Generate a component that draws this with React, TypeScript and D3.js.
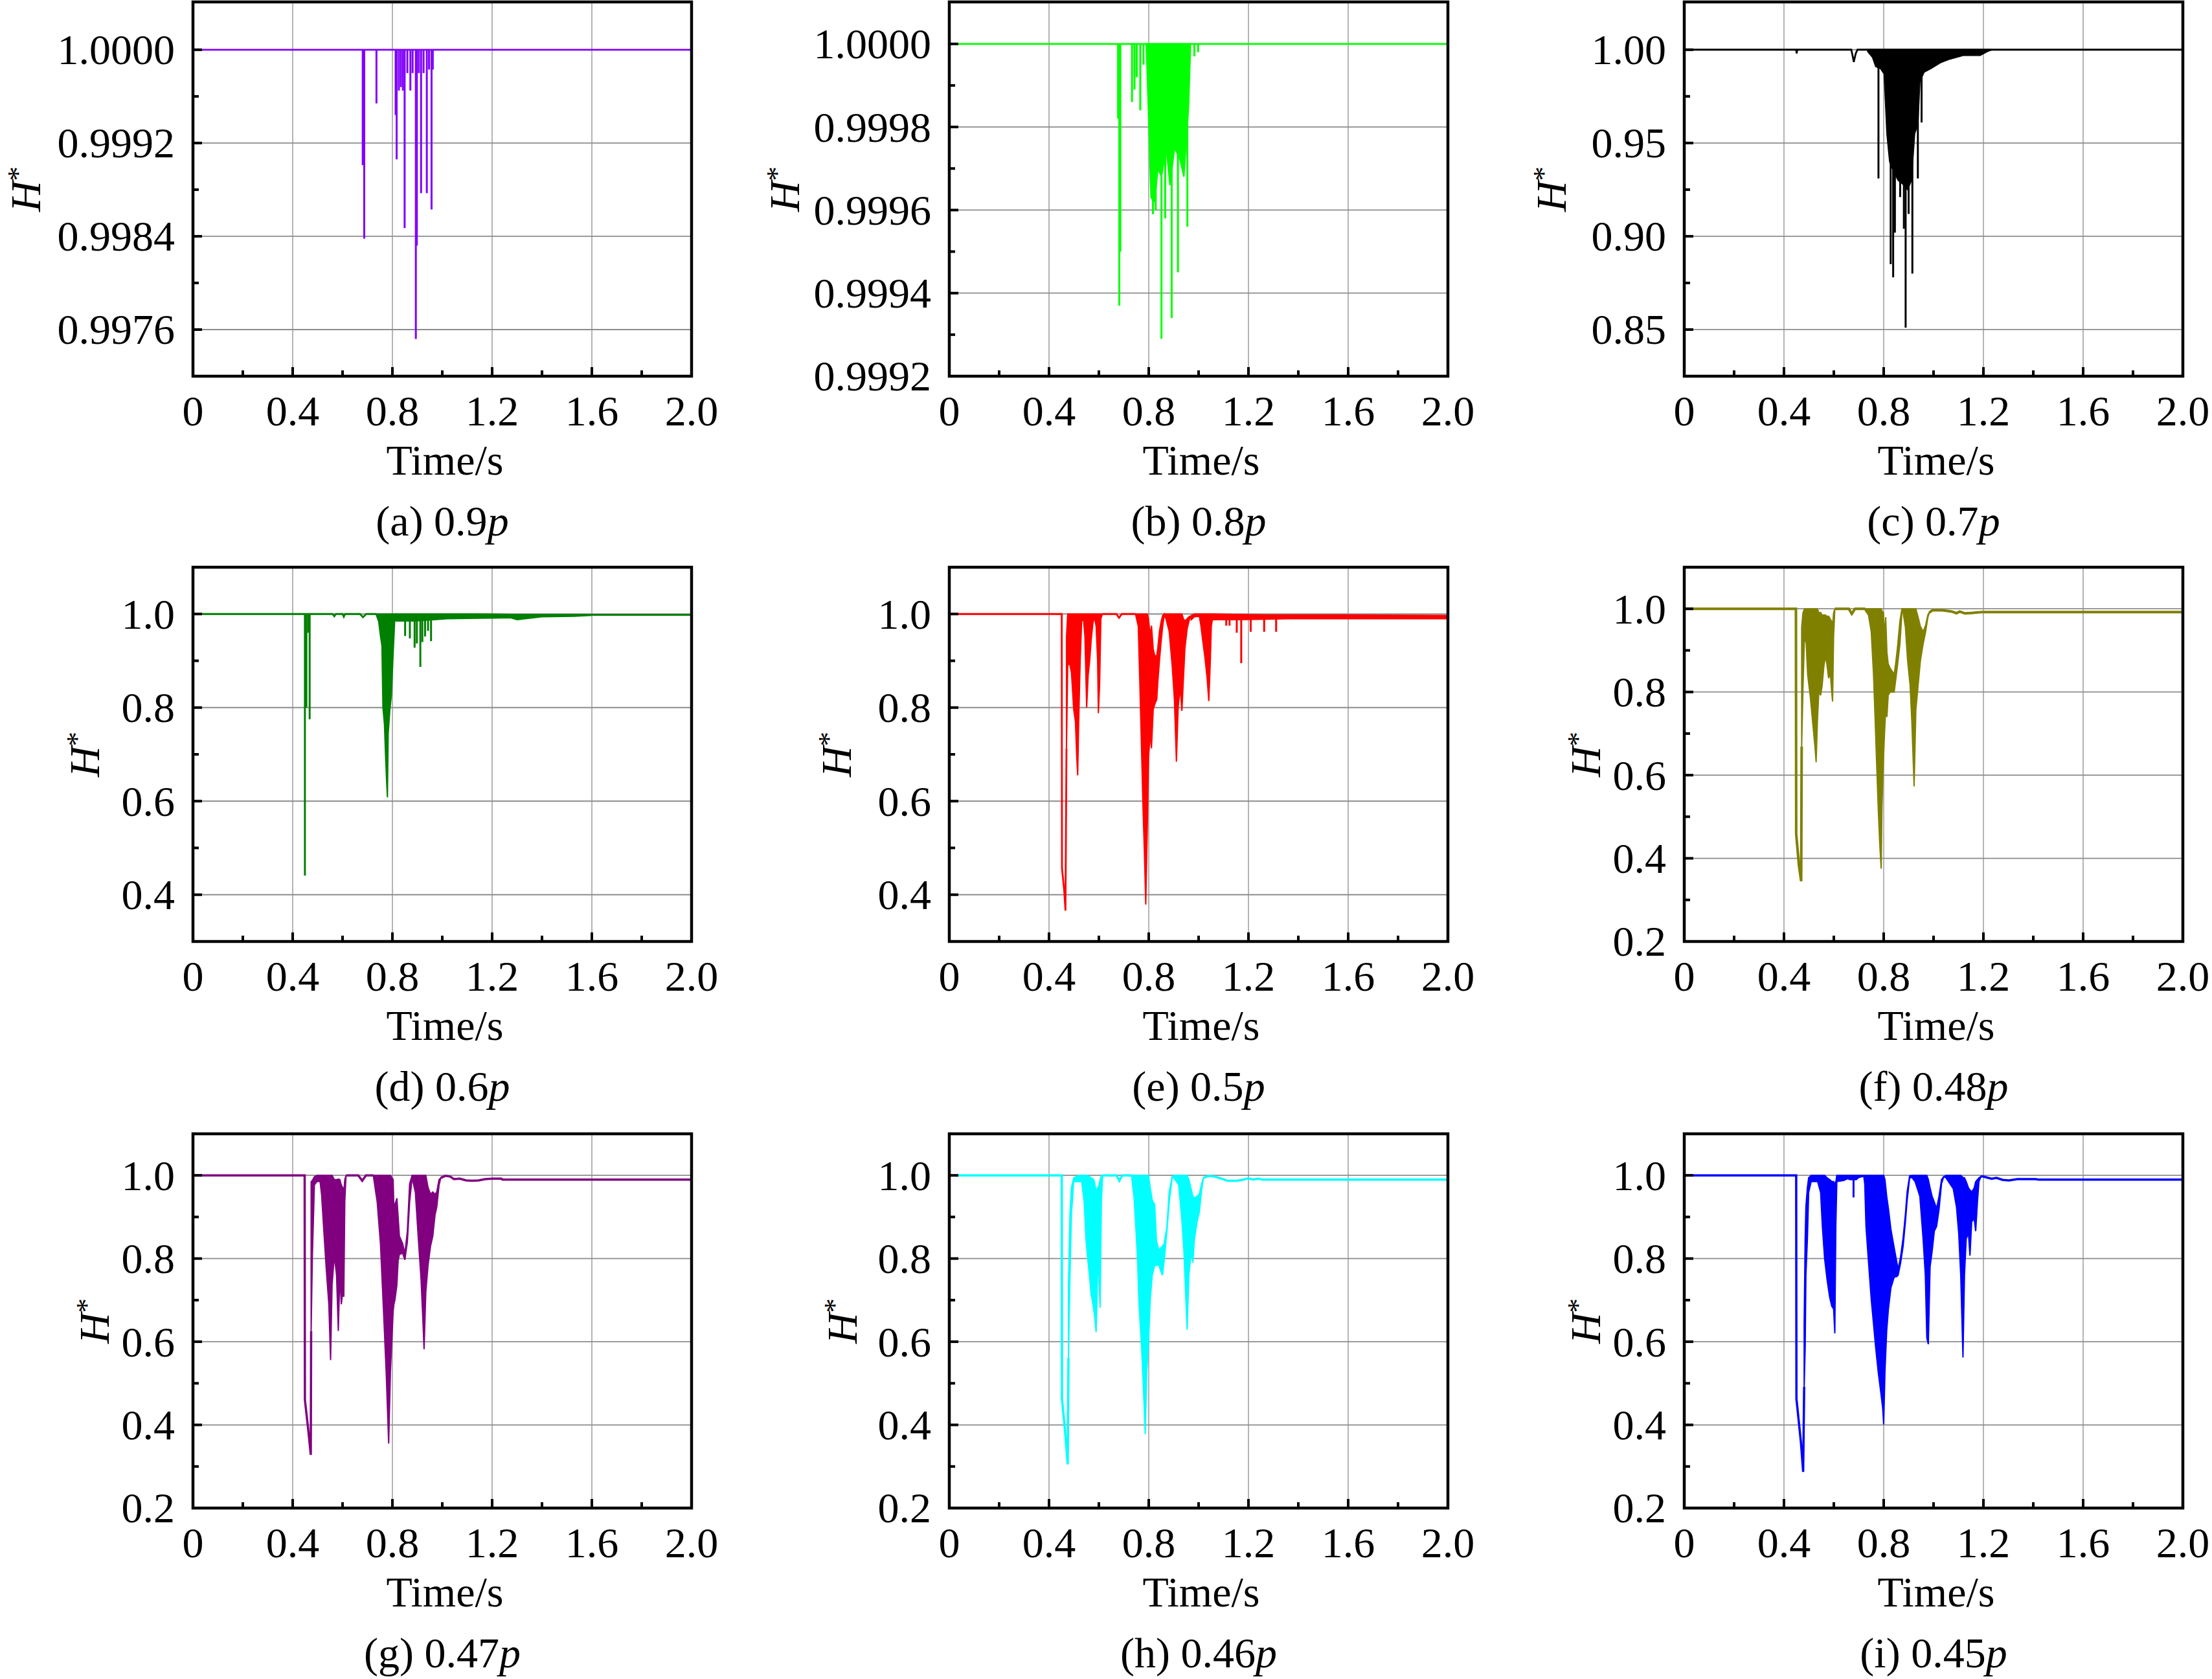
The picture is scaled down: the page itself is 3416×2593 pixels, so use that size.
import * as d3 from "d3";

// ── Types ───────────────────────────────────────────────
type Pt = [number, number]; // [time, H*]
type Env = [number, number, number]; // [time, low, high] envelope of dense oscillation
type Spike = [number, number, number]; // [time, from, to]

// ── Shared axis data ────────────────────────────────────
const X_TICKS = [0, 0.4, 0.8, 1.2, 1.6, 2.0];
const X_LABELS = ["0", "0.4", "0.8", "1.2", "1.6", "2.0"];
const X_MINOR = [0.2, 0.6, 1.0, 1.4, 1.8];

// ── (a) 0.9p ────────────────────────────────────────────
const aLine: Pt[] = [[0, 1], [2, 1]];
const aSpikes: Spike[] = [
  [0.681, 1, 0.99901], [0.687, 1, 0.99838], [0.736, 1, 0.99954], [0.813, 1, 0.99944],
  [0.817, 1, 0.99906], [0.826, 1, 0.99965], [0.834, 1, 0.99968], [0.842, 1, 0.99965],
  [0.849, 1, 0.99847], [0.86, 1, 0.9998], [0.872, 1, 0.99965], [0.881, 1, 0.9998],
  [0.894, 1, 0.99752], [0.898, 1, 0.99832], [0.906, 1, 0.9998], [0.915, 1, 0.99877],
  [0.925, 1, 0.9998], [0.938, 1, 0.99877], [0.947, 1, 0.99983], [0.957, 1, 0.99863],
  [0.962, 1, 0.99983],
];

// ── (b) 0.8p ────────────────────────────────────────────
const bLine: Pt[] = [[0, 1], [2, 1]];
const bBand: Env[] = [
  [0.79, 1, 1], [0.798, 0.99985, 1], [0.809, 0.99963, 1], [0.824, 0.99962, 1],
  [0.837, 0.9997, 1], [0.851, 0.99968, 1], [0.87, 0.99975, 1], [0.885, 0.99966, 1],
  [0.904, 0.99975, 1], [0.926, 0.99972, 1], [0.941, 0.99968, 1], [0.96, 0.99985, 1],
  [0.968, 1, 1],
];
const bSpikes: Spike[] = [
  [0.677, 1, 0.99982], [0.682, 1, 0.99937], [0.686, 1, 0.9995], [0.733, 1, 0.99986],
  [0.743, 1, 0.99989], [0.752, 1, 0.99992], [0.766, 1, 0.99984], [0.779, 1, 0.99995],
  [0.817, 1, 0.99959], [0.828, 1, 0.9996], [0.851, 1, 0.99929], [0.866, 1, 0.99958],
  [0.892, 1, 0.99934], [0.917, 1, 0.99945], [0.955, 1, 0.99956], [0.983, 1, 0.99997],
  [0.998, 1, 0.99998],
];

// ── (c) 0.7p ────────────────────────────────────────────
const cLine: Pt[] = [
  [0, 1], [0.449, 1], [0.451, 0.998], [0.453, 1], [0.67, 1], [0.675, 0.997],
  [0.68, 0.9934], [0.688, 0.998], [0.695, 1], [2, 1],
];
const cBand: Env[] = [
  [0.736, 0.999, 1], [0.755, 0.996, 1], [0.768, 0.991, 1], [0.787, 0.99, 1],
  [0.802, 0.987, 1], [0.813, 0.955, 1], [0.824, 0.94, 1], [0.839, 0.935, 1],
  [0.858, 0.93, 1], [0.877, 0.928, 1], [0.896, 0.925, 1], [0.911, 0.93, 1],
  [0.924, 0.955, 1], [0.937, 0.96, 1], [0.945, 0.983, 1], [0.962, 0.988, 1],
  [0.99, 0.99, 1], [1.027, 0.993, 1], [1.065, 0.995, 1], [1.121, 0.997, 1],
  [1.187, 0.997, 1], [1.215, 0.999, 1], [1.234, 1, 1],
];
const cSpikes: Spike[] = [
  [0.779, 1, 0.931], [0.828, 1, 0.885], [0.838, 1, 0.878], [0.845, 1, 0.902],
  [0.866, 1, 0.921], [0.881, 1, 0.904], [0.888, 1, 0.851], [0.9, 1, 0.912],
  [0.915, 1, 0.88], [0.937, 1, 0.931], [0.952, 1, 0.961],
];

// ── (d) 0.6p ────────────────────────────────────────────
const dLine0: Pt[] = [
  [0, 1], [0.56, 1], [0.567, 0.995], [0.573, 1], [0.6, 1], [0.605, 0.994],
  [0.61, 1], [0.67, 1], [0.682, 0.993], [0.695, 1], [0.736, 1],
];
const dLine1: Pt[] = [[1.6, 0.998], [2, 0.998]];
const dBandA: Env[] = [
  [0.736, 0.997, 1], [0.745, 0.984, 1], [0.752, 0.953, 1], [0.758, 0.932, 1],
  [0.762, 0.8, 1], [0.768, 0.765, 1], [0.773, 0.69, 1], [0.777, 0.64, 1],
  [0.78, 0.608, 1], [0.783, 0.744, 1], [0.79, 0.796, 1], [0.796, 0.827, 1],
  [0.803, 0.916, 1], [0.809, 0.984, 1], [0.815, 0.99, 1],
];
const dBandB: Env[] = [
  [0.815, 0.985, 1], [0.892, 0.985, 1], [0.968, 0.988, 1], [1.02, 0.99, 1],
  [1.146, 0.991, 1], [1.274, 0.992, 0.999], [1.3, 0.988, 0.999], [1.4, 0.994, 0.999],
  [1.53, 0.995, 0.999], [1.6, 0.997, 0.999],
];
const dSpikes: Spike[] = [
  [0.449, 1, 0.441], [0.455, 1, 0.8], [0.462, 1, 0.96], [0.468, 1, 0.775],
  [0.851, 1, 0.953], [0.87, 1, 0.948], [0.889, 1, 0.928], [0.898, 1, 0.937],
  [0.912, 1, 0.887], [0.92, 1, 0.94], [0.931, 1, 0.952], [0.943, 1, 0.964],
  [0.955, 1, 0.942],
];

// ── (e) 0.5p ────────────────────────────────────────────
const eLine0: Pt[] = [
  [0, 1], [0.451, 1], [0.452, 0.457], [0.461, 0.408], [0.466, 0.366], [0.47, 0.713],
];
const eLine1: Pt[] = [[0.614, 1], [0.67, 1], [0.681, 0.992], [0.692, 1], [0.748, 1]];
const eBandA: Env[] = [
  [0.47, 0.713, 0.95], [0.475, 0.89, 1], [0.482, 0.895, 1], [0.49, 0.875, 1],
  [0.499, 0.796, 1], [0.506, 0.77, 1], [0.511, 0.697, 1], [0.515, 0.655, 1],
  [0.519, 0.77, 1], [0.525, 0.9, 1], [0.531, 0.984, 1], [0.538, 0.99, 1],
  [0.544, 0.953, 1], [0.551, 0.8, 1], [0.557, 0.869, 1], [0.563, 0.9, 1],
  [0.569, 0.943, 1], [0.576, 0.98, 1], [0.582, 0.994, 1], [0.589, 0.974, 1],
  [0.595, 0.9, 1], [0.598, 0.788, 1], [0.603, 0.85, 1], [0.608, 0.99, 1],
  [0.614, 1, 1],
];
const eBandB: Env[] = [
  [0.748, 0.997, 1], [0.758, 0.974, 1], [0.764, 0.859, 1], [0.771, 0.713, 1],
  [0.777, 0.587, 1], [0.783, 0.483, 1], [0.788, 0.379, 1], [0.794, 0.536, 1],
  [0.799, 0.692, 0.99], [0.806, 0.744, 0.953], [0.811, 0.713, 0.975], [0.818, 0.796, 0.925],
  [0.824, 0.807, 0.911], [0.832, 0.817, 0.91], [0.837, 0.859, 0.93], [0.843, 0.9, 0.963],
  [0.85, 0.943, 0.985], [0.856, 0.974, 0.997], [0.862, 0.997, 1],
];
const eBandC: Env[] = [
  [0.862, 0.997, 1], [0.869, 0.99, 1], [0.882, 0.963, 1], [0.894, 0.89, 1],
  [0.903, 0.817, 1], [0.911, 0.684, 1], [0.918, 0.8, 1], [0.926, 0.843, 1],
  [0.933, 0.793, 1], [0.939, 0.86, 0.99], [0.945, 0.926, 0.985], [0.954, 0.968, 0.99],
  [0.964, 0.99, 0.995], [0.971, 0.99, 0.995],
];
const eBandD: Env[] = [
  [0.971, 0.988, 0.997], [0.983, 0.994, 1], [1.003, 0.995, 1], [1.009, 0.976, 1],
  [1.015, 0.95, 1], [1.025, 0.909, 1], [1.034, 0.864, 1], [1.041, 0.814, 1],
  [1.047, 0.9, 1], [1.051, 0.974, 1], [1.056, 0.99, 1],
];
const eBandE: Env[] = [
  [1.056, 0.988, 1], [1.15, 0.988, 0.999], [1.27, 0.989, 0.998], [1.36, 0.99, 0.998],
  [1.6, 0.99, 0.998], [2.0, 0.99, 0.997],
];
const eSpikes: Spike[] = [
  [1.111, 0.99, 0.975], [1.124, 0.99, 0.975], [1.153, 0.99, 0.96], [1.171, 0.99, 0.895],
  [1.209, 0.99, 0.962], [1.263, 0.99, 0.962], [1.311, 0.99, 0.962],
];

// ── (f) 0.48p ───────────────────────────────────────────
const fLine0: Pt[] = [
  [0, 1], [0.448, 1], [0.449, 0.459], [0.46, 0.383], [0.469, 0.345], [0.471, 0.669],
];
const fLine1: Pt[] = [[0.604, 1], [0.66, 1], [0.672, 0.988], [0.685, 1], [0.726, 1]];
const fLine2: Pt[] = [
  [0.983, 0.991], [0.996, 0.9965], [1.035, 0.9965], [1.073, 0.9935], [1.092, 0.9895],
  [1.105, 0.9935], [1.125, 0.989], [1.15, 0.99], [1.195, 0.9922], [2.0, 0.9922],
];
const fBandA: Env[] = [
  [0.471, 0.669, 0.955], [0.476, 0.804, 0.99], [0.482, 0.929, 1], [0.489, 0.918, 1],
  [0.495, 0.842, 1], [0.506, 0.786, 1], [0.515, 0.728, 1], [0.524, 0.67, 1],
  [0.529, 0.631, 1], [0.534, 0.728, 1], [0.54, 0.804, 0.99], [0.547, 0.792, 0.991],
  [0.553, 0.815, 0.985], [0.56, 0.862, 0.985], [0.566, 0.885, 0.985], [0.572, 0.868, 0.982],
  [0.579, 0.833, 0.982], [0.586, 0.845, 0.975], [0.591, 0.803, 0.97], [0.595, 0.777, 0.96],
  [0.599, 0.933, 0.99], [0.604, 1, 1],
];
const fBandB: Env[] = [
  [0.726, 0.996, 1], [0.739, 0.985, 1], [0.75, 0.945, 1], [0.759, 0.845, 1],
  [0.765, 0.746, 1], [0.771, 0.64, 1], [0.778, 0.523, 1], [0.784, 0.436, 1],
  [0.79, 0.375, 1], [0.793, 0.523, 0.995], [0.799, 0.64, 0.99], [0.804, 0.71, 0.93],
  [0.808, 0.755, 0.98], [0.813, 0.74, 0.895], [0.818, 0.792, 0.868], [0.826, 0.8, 0.857],
  [0.842, 0.8, 0.843], [0.848, 0.828, 0.868], [0.855, 0.862, 0.905], [0.865, 0.915, 0.97],
  [0.873, 0.99, 1], [0.878, 1, 1],
];
const fBandC: Env[] = [
  [0.878, 0.991, 1], [0.887, 0.956, 1], [0.896, 0.875, 1], [0.906, 0.816, 1],
  [0.913, 0.728, 1], [0.922, 0.573, 1], [0.929, 0.757, 1], [0.938, 0.816, 0.98],
  [0.947, 0.874, 0.958], [0.958, 0.915, 0.945], [0.968, 0.944, 0.96], [0.977, 0.979, 0.985],
  [0.983, 0.991, 0.992],
];

// ── (g) 0.47p ───────────────────────────────────────────
const gLine0: Pt[] = [
  [0, 1], [0.448, 1], [0.449, 0.46], [0.461, 0.396], [0.4726, 0.328], [0.474, 0.626],
];
const gLine1: Pt[] = [[0.614, 1], [0.663, 1], [0.679, 0.987], [0.694, 1], [0.724, 1]];
const gLine2: Pt[] = [
  [0.994, 0.994], [1.013, 0.999], [1.032, 0.997], [1.047, 0.991], [1.07, 0.992],
  [1.096, 0.988], [1.121, 0.987], [1.146, 0.988], [1.172, 0.991], [1.204, 0.992],
  [1.236, 0.992], [1.242, 0.99], [2.0, 0.99],
];
const gBandA: Env[] = [
  [0.474, 0.626, 0.985], [0.479, 0.807, 0.988], [0.487, 0.977, 0.997], [0.497, 0.985, 1],
  [0.51, 0.985, 1], [0.516, 0.953, 1], [0.525, 0.866, 1], [0.535, 0.772, 1],
  [0.545, 0.69, 1], [0.552, 0.556, 1], [0.558, 0.737, 1], [0.567, 0.807, 0.99],
  [0.576, 0.76, 0.99], [0.583, 0.626, 0.991], [0.589, 0.76, 0.99], [0.595, 0.69, 0.977],
  [0.601, 0.72, 0.97], [0.605, 0.708, 0.96], [0.609, 0.936, 0.99], [0.614, 1, 1],
];
const gBandB: Env[] = [
  [0.724, 0.997, 1], [0.739, 0.936, 1], [0.752, 0.836, 1], [0.764, 0.679, 1],
  [0.775, 0.527, 1], [0.785, 0.355, 1], [0.792, 0.527, 1], [0.803, 0.673, 0.99],
  [0.806, 0.69, 0.918], [0.81, 0.7, 0.93], [0.818, 0.737, 0.945], [0.823, 0.795, 0.9],
  [0.828, 0.81, 0.854], [0.841, 0.813, 0.836], [0.85, 0.797, 0.812], [0.86, 0.84, 0.866],
  [0.869, 0.936, 0.98], [0.879, 0.994, 1],
];
const gBandC: Env[] = [
  [0.879, 0.994, 1], [0.892, 0.96, 1], [0.904, 0.848, 1], [0.915, 0.749, 1],
  [0.922, 0.655, 1], [0.927, 0.582, 1], [0.934, 0.72, 1], [0.943, 0.784, 0.971],
  [0.953, 0.83, 0.955], [0.962, 0.854, 0.96], [0.971, 0.905, 0.955], [0.978, 0.924, 0.96],
  [0.987, 0.976, 0.99], [0.994, 0.994, 0.994],
];

// ── (h) 0.46p ───────────────────────────────────────────
const hLine0: Pt[] = [
  [0, 1], [0.451, 1], [0.452, 0.463], [0.465, 0.381], [0.475, 0.305], [0.478, 0.562],
];
const hLine1: Pt[] = [[0.615, 1], [0.671, 1], [0.682, 0.987], [0.694, 1], [0.732, 1]];
const hLine2: Pt[] = [
  [1.019, 0.994], [1.041, 0.999], [1.066, 0.997], [1.092, 0.992], [1.117, 0.987],
  [1.156, 0.987], [1.181, 0.99], [1.2, 0.993], [1.219, 0.99], [1.238, 0.992],
  [1.257, 0.99], [2.0, 0.99],
];
const hBandA: Env[] = [
  [0.478, 0.562, 0.73], [0.484, 0.76, 0.907], [0.49, 0.907, 0.971], [0.499, 0.985, 0.994],
  [0.518, 0.985, 1], [0.531, 0.985, 1], [0.541, 0.936, 1], [0.548, 0.848, 1],
  [0.554, 0.807, 1], [0.561, 0.766, 0.998], [0.569, 0.714, 0.994], [0.576, 0.69, 0.992],
  [0.582, 0.667, 0.985], [0.589, 0.623, 0.96], [0.595, 0.772, 0.97], [0.6, 0.76, 0.975],
  [0.605, 0.682, 0.99], [0.61, 0.936, 1], [0.615, 1, 1],
];
const hBandB: Env[] = [
  [0.732, 0.994, 1], [0.741, 0.947, 1], [0.748, 0.877, 1], [0.755, 0.8, 1],
  [0.761, 0.69, 1], [0.771, 0.591, 1], [0.778, 0.498, 1], [0.786, 0.378, 1],
  [0.792, 0.527, 1], [0.799, 0.597, 1], [0.806, 0.7, 0.97], [0.814, 0.76, 0.94],
  [0.824, 0.784, 0.93], [0.831, 0.784, 0.842], [0.841, 0.784, 0.819], [0.847, 0.772, 0.825],
  [0.855, 0.76, 0.83], [0.862, 0.795, 0.836], [0.873, 0.866, 0.877], [0.882, 0.936, 0.96],
  [0.894, 0.994, 0.997],
];
const hBandC: Env[] = [
  [0.894, 0.994, 0.997], [0.901, 0.994, 1], [0.92, 0.977, 1], [0.932, 0.9, 1],
  [0.941, 0.819, 1], [0.949, 0.702, 1], [0.954, 0.629, 1], [0.961, 0.76, 0.99],
  [0.971, 0.819, 0.965], [0.977, 0.79, 0.95], [0.983, 0.845, 0.945], [0.994, 0.889, 0.95],
  [1.003, 0.912, 0.955], [1.011, 0.959, 0.977], [1.019, 0.994, 0.994],
];

// ── (i) 0.45p ───────────────────────────────────────────
const iLine0: Pt[] = [
  [0, 1], [0.449, 1], [0.45, 0.463], [0.468, 0.358], [0.477, 0.287], [0.481, 0.492],
];
const iLine2: Pt[] = [
  [1.188, 0.996], [1.195, 0.998], [1.214, 0.995], [1.233, 0.992], [1.252, 0.994],
  [1.278, 0.989], [1.303, 0.988], [1.336, 0.991], [1.368, 0.991], [1.41, 0.991],
  [1.42, 0.99], [2.0, 0.99],
];
const iBandA: Env[] = [
  [0.481, 0.492, 0.646], [0.485, 0.585, 0.848], [0.488, 0.76, 0.925], [0.494, 0.848, 0.971],
  [0.499, 0.959, 0.994], [0.509, 0.985, 1], [0.535, 0.985, 1], [0.547, 0.959, 1],
  [0.554, 0.877, 1], [0.563, 0.8, 1], [0.573, 0.749, 0.994], [0.583, 0.708, 0.99],
  [0.592, 0.685, 0.985], [0.599, 0.679, 0.985], [0.604, 0.62, 0.98], [0.608, 0.877, 0.985],
  [0.612, 0.985, 1], [0.64, 0.988, 1], [0.655, 0.992, 1], [0.665, 0.99, 1],
  [0.69, 0.99, 1], [0.7, 0.995, 1], [0.72, 0.998, 1],
];
const iBandB: Env[] = [
  [0.72, 0.998, 1], [0.724, 0.98, 1], [0.729, 0.877, 1], [0.74, 0.784, 1],
  [0.75, 0.702, 1], [0.759, 0.644, 1], [0.768, 0.585, 1], [0.778, 0.527, 1],
  [0.788, 0.48, 1], [0.796, 0.44, 1], [0.8, 0.401, 1], [0.805, 0.527, 0.99],
  [0.812, 0.626, 0.95], [0.819, 0.679, 0.92], [0.829, 0.73, 0.87], [0.842, 0.755, 0.826],
  [0.853, 0.757, 0.79], [0.858, 0.76, 0.775], [0.868, 0.79, 0.805], [0.878, 0.83, 0.85],
  [0.887, 0.888, 0.906], [0.894, 0.94, 0.96], [0.904, 0.994, 0.999],
];
const iBandC: Env[] = [
  [0.904, 0.994, 0.999], [0.913, 0.995, 1], [0.926, 0.985, 1], [0.945, 0.95, 1],
  [0.958, 0.848, 1], [0.967, 0.76, 1], [0.973, 0.609, 1], [0.979, 0.594, 0.99],
  [0.986, 0.78, 0.97], [0.994, 0.816, 0.95], [1.003, 0.866, 0.936], [1.012, 0.877, 0.92],
  [1.022, 0.918, 0.95], [1.032, 0.98, 0.99], [1.041, 0.997, 0.997],
];
const iBandD: Env[] = [
  [1.041, 0.997, 0.997], [1.05, 0.994, 1], [1.06, 0.985, 1], [1.079, 0.968, 1],
  [1.092, 0.924, 1], [1.101, 0.86, 1], [1.109, 0.76, 1], [1.118, 0.562, 0.995],
  [1.124, 0.76, 0.994], [1.131, 0.848, 0.985], [1.14, 0.86, 0.97], [1.146, 0.807, 0.965],
  [1.153, 0.889, 0.96], [1.163, 0.895, 0.97], [1.169, 0.866, 0.985], [1.176, 0.936, 0.99],
  [1.182, 0.985, 0.994], [1.188, 0.994, 0.996],
];
const iSpikes: Spike[] = [[0.679, 0.99, 0.947]];

// ── Layout ──────────────────────────────────────────────
const W = 3416;
const H = 2593;
const COL_X = [298, 1466, 2601];
const ROW_Y = [3, 876, 1751];
const PLOT_W = 770;
const PLOT_H = 578;
const FONT = "'Liberation Serif', 'Times New Roman', serif";
const FS = 66;

interface PanelSpec {
  tag: string;
  color: string;
  col: number;
  row: number;
  yDomain: [number, number];
  yTicks: number[];
  yLabels: string[];
  yMinor: number[];
  lines: Pt[][];
  bands: Env[][];
  spikes: Spike[];
  labelOff: number;
  lineWidth?: number;
}

const LAB_A = ["1.0000", "0.9992", "0.9984", "0.9976"];
const LAB_B = ["1.0000", "0.9998", "0.9996", "0.9994", "0.9992"];
const LAB_C = ["1.00", "0.95", "0.90", "0.85"];
const LAB_DE = ["1.0", "0.8", "0.6", "0.4"];
const LAB_FI = ["1.0", "0.8", "0.6", "0.4", "0.2"];

const PANELS: PanelSpec[] = [
  {
    tag: "(a) 0.9", color: "#8000ff", col: 0, row: 0,
    yDomain: [0.9972, 1.00041], yTicks: [1, 0.9992, 0.9984, 0.9976], yLabels: LAB_A,
    yMinor: [0.9996, 0.9988, 0.998], lines: [aLine], bands: [], spikes: aSpikes, labelOff: 236,
  },
  {
    tag: "(b) 0.8", color: "#00ff00", col: 1, row: 0,
    yDomain: [0.9992, 1.000101], yTicks: [1, 0.9998, 0.9996, 0.9994, 0.9992], yLabels: LAB_B,
    yMinor: [0.9999, 0.9997, 0.9995, 0.9993], lines: [bLine], bands: [bBand], spikes: bSpikes, labelOff: 232,
  },
  {
    tag: "(c) 0.7", color: "#000000", col: 2, row: 0,
    yDomain: [0.825, 1.0256], yTicks: [1, 0.95, 0.9, 0.85], yLabels: LAB_C,
    yMinor: [0.975, 0.925, 0.875], lines: [cLine], bands: [cBand], spikes: cSpikes, labelOff: 183,
  },
  {
    tag: "(d) 0.6", color: "#008000", col: 0, row: 1,
    yDomain: [0.3, 1.1], yTicks: [1, 0.8, 0.6, 0.4], yLabels: LAB_DE,
    yMinor: [0.9, 0.7, 0.5], lines: [dLine0, dLine1], bands: [dBandA, dBandB], spikes: dSpikes, labelOff: 145,
  },
  {
    tag: "(e) 0.5", color: "#ff0000", col: 1, row: 1,
    yDomain: [0.3, 1.1], yTicks: [1, 0.8, 0.6, 0.4], yLabels: LAB_DE,
    yMinor: [0.9, 0.7, 0.5], lines: [eLine0, eLine1],
    bands: [eBandA, eBandB, eBandC, eBandD, eBandE], spikes: eSpikes, labelOff: 152,
  },
  {
    tag: "(f) 0.48", color: "#808000", col: 2, row: 1,
    yDomain: [0.2, 1.1], yTicks: [1, 0.8, 0.6, 0.4, 0.2], yLabels: LAB_FI,
    yMinor: [0.9, 0.7, 0.5, 0.3], lines: [fLine0, fLine1, fLine2],
    bands: [fBandA, fBandB, fBandC], spikes: [], labelOff: 130, lineWidth: 4,
  },
  {
    tag: "(g) 0.47", color: "#800080", col: 0, row: 2,
    yDomain: [0.2, 1.1], yTicks: [1, 0.8, 0.6, 0.4, 0.2], yLabels: LAB_FI,
    yMinor: [0.9, 0.7, 0.5, 0.3], lines: [gLine0, gLine1, gLine2],
    bands: [gBandA, gBandB, gBandC], spikes: [], labelOff: 130, lineWidth: 3.5,
  },
  {
    tag: "(h) 0.46", color: "#00ffff", col: 1, row: 2,
    yDomain: [0.2, 1.1], yTicks: [1, 0.8, 0.6, 0.4, 0.2], yLabels: LAB_FI,
    yMinor: [0.9, 0.7, 0.5, 0.3], lines: [hLine0, hLine1, hLine2],
    bands: [hBandA, hBandB, hBandC], spikes: [], labelOff: 143, lineWidth: 3.5,
  },
  {
    tag: "(i) 0.45", color: "#0000ff", col: 2, row: 2,
    yDomain: [0.2, 1.1], yTicks: [1, 0.8, 0.6, 0.4, 0.2], yLabels: LAB_FI,
    yMinor: [0.9, 0.7, 0.5, 0.3], lines: [iLine0, iLine2],
    bands: [iBandA, iBandB, iBandC, iBandD], spikes: iSpikes, labelOff: 130, lineWidth: 3.5,
  },
];

// ── Panel ───────────────────────────────────────────────
function Panel({ spec, idx }: { spec: PanelSpec; idx: number }) {
  const left = COL_X[spec.col];
  const top = ROW_Y[spec.row];
  const bottom = top + PLOT_H;
  const right = left + PLOT_W;
  const x = d3.scaleLinear().domain([0, 2]).range([left, right]);
  const y = d3.scaleLinear().domain(spec.yDomain).range([bottom, top]);
  const line = d3.line<Pt>().x((d) => x(d[0])).y((d) => y(d[1]));
  const area = d3
    .area<Env>()
    .x((d) => x(d[0]))
    .y0((d) => y(d[1]))
    .y1((d) => y(d[2]));
  const clipId = `clip-${idx}`;
  const cx = (left + right) / 2;
  const lw = spec.lineWidth ?? 2.8;

  return (
    <g>
      <defs>
        <clipPath id={clipId}>
          <rect x={left} y={top} width={PLOT_W} height={PLOT_H} />
        </clipPath>
      </defs>

      {/* grid */}
      {X_TICKS.slice(1, -1).map((t) => (
        <line key={`gx${t}`} x1={x(t)} x2={x(t)} y1={top} y2={bottom} stroke="#b4b4b4" strokeWidth={2} />
      ))}
      {spec.yTicks.map((t) => (
        <line key={`gy${t}`} x1={left} x2={right} y1={y(t)} y2={y(t)} stroke="#8c8c8c" strokeWidth={1.8} />
      ))}

      {/* data */}
      <g clipPath={`url(#${clipId})`}>
        {spec.bands.map((b, i) => (
          <path key={`b${i}`} d={area(b) ?? ""} fill={spec.color} stroke={spec.color} strokeWidth={2} />
        ))}
        {spec.lines.map((l, i) => (
          <path key={`l${i}`} d={line(l) ?? ""} fill="none" stroke={spec.color} strokeWidth={lw} />
        ))}
        {spec.spikes.map((s, i) => (
          <path
            key={`s${i}`}
            d={line([[s[0], s[1]], [s[0], s[2]]]) ?? ""}
            fill="none"
            stroke={spec.color}
            strokeWidth={3}
          />
        ))}
      </g>

      {/* frame */}
      <rect x={left} y={top} width={PLOT_W} height={PLOT_H} fill="none" stroke="#000" strokeWidth={4.5} />

      {/* ticks (inward) */}
      {X_TICKS.slice(1, -1).map((t) => (
        <line key={`tx${t}`} x1={x(t)} x2={x(t)} y1={bottom} y2={bottom - 14} stroke="#000" strokeWidth={4} />
      ))}
      {X_MINOR.map((t) => (
        <line key={`mx${t}`} x1={x(t)} x2={x(t)} y1={bottom} y2={bottom - 9} stroke="#000" strokeWidth={4} />
      ))}
      {spec.yTicks.map((t) => (
        <line key={`ty${t}`} x1={left} x2={left + 14} y1={y(t)} y2={y(t)} stroke="#000" strokeWidth={4} />
      ))}
      {spec.yMinor.map((t) => (
        <line key={`my${t}`} x1={left} x2={left + 9} y1={y(t)} y2={y(t)} stroke="#000" strokeWidth={4} />
      ))}

      {/* tick labels */}
      {spec.yTicks.map((t, i) => (
        <text key={`ly${t}`} x={left - 28} y={y(t)} dy="0.34em" textAnchor="end" fontSize={FS}>
          {spec.yLabels[i]}
        </text>
      ))}
      {X_TICKS.map((t, i) => (
        <text key={`lx${t}`} x={x(t)} y={bottom + 76} textAnchor="middle" fontSize={FS}>
          {X_LABELS[i]}
        </text>
      ))}

      {/* axis titles */}
      <text x={cx + 4} y={bottom + 152} textAnchor="middle" fontSize={FS}>
        Time/s
      </text>
      <text
        transform={`translate(${left - spec.labelOff},${(top + bottom) / 2}) rotate(-90)`}
        textAnchor="middle"
        fontSize={FS}
      >
        <tspan fontStyle="italic">H</tspan>
        <tspan dy="-0.45em" fontSize={FS * 0.68}>*</tspan>
      </text>

      {/* caption */}
      <text x={cx} y={bottom + 246} textAnchor="middle" fontSize={FS}>
        {spec.tag}
        <tspan fontStyle="italic">p</tspan>
      </text>
    </g>
  );
}

export default function App() {
  return (
    <svg
      width={W}
      height={H}
      viewBox={`0 0 ${W} ${H}`}
      style={{ position: "absolute", left: 0, top: 0, background: "#fff" }}
      fontFamily={FONT}
      fill="#000"
    >
      <rect width={W} height={H} fill="#fff" />
      {PANELS.map((p, i) => (
        <Panel key={p.tag} spec={p} idx={i} />
      ))}
    </svg>
  );
}
